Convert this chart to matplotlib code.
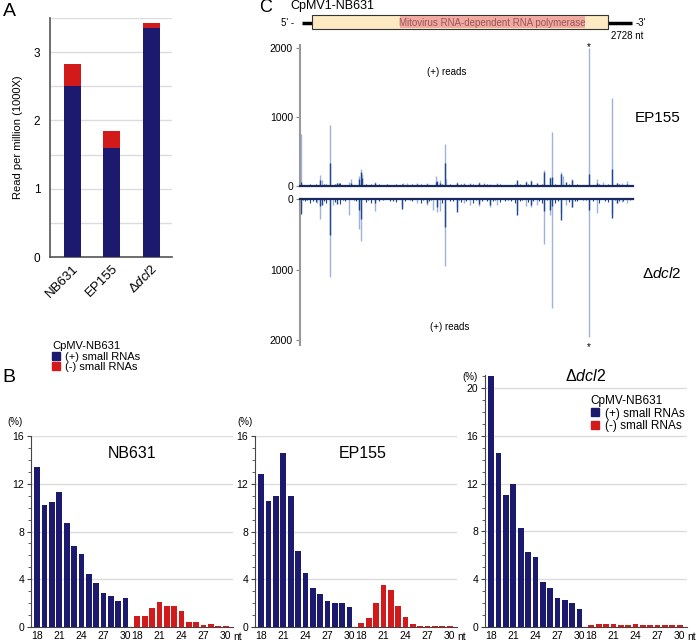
import numpy as np
import matplotlib.pyplot as plt
from matplotlib.patches import Rectangle
from matplotlib.lines import Line2D

plt.rcParams['font.family'] = ['Liberation Sans', 'DejaVu Sans']
plt.rcParams['mathtext.fontset'] = 'custom'
plt.rcParams['mathtext.rm'] = 'Liberation Sans'
plt.rcParams['mathtext.it'] = 'Liberation Sans:italic'

# ---- data ----
strains = ["NB631", "EP155", r"$\Delta\it{dcl2}$"]
plus_rpm = [2.50, 1.60, 3.35]      # (+) small RNAs, x1000 RPM
minus_rpm = [0.33, 0.24, 0.07]     # (-) small RNAs

sizes = list(range(18, 31))
nb631_plus = [13.4, 10.2, 10.45, 11.35, 8.75, 6.8, 6.15, 4.45, 3.65, 2.85, 2.6, 2.15, 2.45]
nb631_minus = [0.9, 0.9, 1.55, 2.1, 1.8, 1.8, 1.3, 0.38, 0.38, 0.14, 0.25, 0.12, 0.12]
ep155_plus = [12.85, 10.55, 11.0, 14.6, 11.0, 6.4, 4.5, 3.3, 2.75, 2.15, 2.0, 2.05, 1.67]
ep155_minus = [0.35, 0.75, 2.05, 3.5, 3.1, 1.75, 0.8, 0.22, 0.12, 0.12, 0.12, 0.12, 0.12]
dcl2_plus = [21.0, 14.55, 11.05, 12.0, 8.25, 6.3, 5.9, 3.8, 3.3, 2.45, 2.3, 2.0, 1.5]
dcl2_minus = [0.2, 0.25, 0.27, 0.22, 0.2, 0.2, 0.27, 0.18, 0.15, 0.15, 0.15, 0.2, 0.15]

genome_len = 2728
orf_start, orf_end = 98, 2523
rdrp_start, rdrp_end = 819, 2334

ep155_light_pos = [5, 166, 180, 248, 306, 404, 415, 483, 500, 511, 614, 841, 874, 955, 1037,
                   1111, 1146, 1188, 1196, 1283, 1343, 1392, 1469, 1507, 1556, 1616, 1774,
                   1851, 1889, 2001, 2048, 2067, 2135, 2151, 2225, 2370, 2430, 2484, 2552,
                   2593, 2634, 2675]
ep155_light_reads = [760, 160, 90, 890, 50, 60, 100, 140, 240, 180, 60, 40, 50, 40, 50,
                     150, 80, 610, 100, 60, 40, 50, 60, 40, 30, 50, 60,
                     70, 80, 230, 130, 790, 210, 150, 100, 2000, 100, 60, 1275,
                     50, 40, 70]
ep155_dark_pos = [5, 166, 248, 306, 317, 415, 483, 500, 511, 614, 710, 833, 955, 1037, 1111,
                  1119, 1146, 1188, 1283, 1343, 1392, 1469, 1507, 1616, 1774, 1851, 1889,
                  1938, 2001, 2048, 2067, 2135, 2178, 2225, 2293, 2370, 2430, 2552, 2593, 2675]
ep155_dark_reads = [60, 80, 330, 40, 45, 50, 100, 200, 120, 40, 25, 30, 25, 30, 60,
                    70, 50, 340, 40, 30, 35, 45, 30, 30, 80, 60, 70,
                    40, 200, 110, 130, 180, 60, 90, 20, 180, 50, 250, 40, 30]

dcl2_light_pos = [5, 136, 166, 248, 273, 404, 483, 500, 614, 833, 955, 1037, 1092, 1119, 1146,
                  1188, 1283, 1343, 1392, 1469, 1556, 1616, 1774, 1851, 1889, 1938, 2001,
                  2048, 2067, 2140, 2178, 2225, 2370, 2430, 2560, 2593, 2634, 2675]
dcl2_light_reads = [120, 60, 280, 1100, 80, 230, 420, 590, 170, 100, 60, 80, 150, 190, 170,
                    945, 120, 60, 80, 100, 110, 90, 150, 100, 120, 90, 640,
                    230, 1550, 200, 80, 120, 1960, 200, 200, 60, 40, 50]
dcl2_dark_pos = [5, 166, 180, 248, 306, 483, 500, 614, 833, 1037, 1119, 1188, 1283, 1469,
                 1556, 1774, 1889, 2001, 2048, 2067, 2140, 2225, 2370, 2560, 2593]
dcl2_dark_reads = [210, 100, 90, 510, 70, 150, 280, 50, 145, 50, 110, 400, 180, 70,
                   80, 220, 90, 170, 150, 100, 300, 110, 150, 265, 50]

fill_pos = [25, 45, 60, 85, 110, 130, 200, 215, 285, 330, 350, 370, 440, 455, 540, 560, 585,
            650, 680, 740, 760, 790, 860, 900, 920, 990, 1010, 1060, 1075, 1160, 1225, 1250,
            1300, 1320, 1360, 1420, 1440, 1490, 1530, 1580, 1600, 1640, 1680, 1700, 1730,
            1760, 1800, 1820, 1870, 1910, 1960, 1980, 2020, 2090, 2110, 2200, 2250, 2270,
            2320, 2340, 2400, 2450, 2500, 2520, 2580, 2610, 2650, 2700]
ep155_fill_reads = [15, 20, 12, 30, 18, 25, 22, 35, 28, 40, 15, 20, 12, 18, 25, 15, 30, 22, 12, 20,
                    15, 25, 18, 14, 22, 30, 15, 20, 12, 35, 22, 18, 15, 25, 20, 30, 12, 16, 22, 18,
                    15, 25, 20, 12, 18, 30, 22, 15, 25, 20, 18, 30, 15, 35, 20, 25, 18, 22, 15, 12,
                    20, 30, 18, 25, 15, 22, 20, 14]
dcl2_fill_reads = [20, 35, 15, 50, 25, 40, 30, 60, 45, 70, 20, 30, 15, 25, 40, 20, 55, 35, 15, 30,
                   25, 45, 30, 20, 35, 50, 20, 30, 15, 60, 35, 25, 20, 45, 30, 55, 15, 25, 35, 30,
                   20, 40, 30, 15, 25, 50, 35, 20, 45, 30, 25, 55, 20, 60, 30, 40, 25, 35, 20, 15,
                   30, 50, 25, 40, 20, 35, 30, 20]

NAVY = "#1c1a6e"
RED = "#d21a1a"
LIGHT = "#9fb2d8"
DARK = "#1f4690"
W, H = 696, 642

fig = plt.figure(figsize=(W / 100, H / 100), dpi=100)


def px_axes(l, t, r, b):
    return fig.add_axes([l / W, 1 - b / H, (r - l) / W, (b - t) / H])


def ftext(x, y, s, **kw):
    kw.setdefault("ha", "center")
    kw.setdefault("va", "center")
    fig.text(x / W, 1 - y / H, s, **kw)


# ---- panel A ----
axA = px_axes(50, 18, 172, 257)
xa = np.arange(len(strains))
axA.bar(xa, plus_rpm, 0.43, color=NAVY, zorder=3)
axA.bar(xa, minus_rpm, 0.43, bottom=plus_rpm, color=RED, zorder=3)
axA.set_xlim(-0.56, 2.53)
axA.set_ylim(0, 3.5)
axA.set_yticks([0, 1, 2, 3])
axA.set_yticks(np.arange(0.5, 3.6, 1.0), minor=True)
axA.yaxis.grid(True, which="both", color="#dcdcdc", lw=1, zorder=0)
axA.set_xticks(xa)
axA.set_xticklabels(strains, rotation=45, ha="right", rotation_mode="anchor", fontsize=9.5)
axA.tick_params(axis="x", length=0, pad=4)
axA.tick_params(axis="y", which="both", length=0, labelsize=8.5, pad=7)
for s in ["top", "right"]:
    axA.spines[s].set_visible(False)
for s in ["left", "bottom"]:
    axA.spines[s].set_color("#555555")
    axA.spines[s].set_linewidth(1.2)
axA.set_ylabel("Read per million (1000X)", fontsize=8, labelpad=8)
ftext(9, 12, "A", fontsize=14)

handles = [Line2D([], [], marker="s", ls="", color=NAVY, markersize=6),
           Line2D([], [], marker="s", ls="", color=RED, markersize=6)]
fig.legend(handles, ["(+) small RNAs", "(-) small RNAs"], title="CpMV-NB631",
           loc="upper left", bbox_to_anchor=(52 / W, 1 - 341 / H), frameon=False,
           fontsize=8, title_fontsize=8, alignment="left", handlelength=0.8,
           handletextpad=0.4, labelspacing=0.05, borderpad=0, borderaxespad=0)

# ---- panel C: genome map ----
axG = px_axes(300, 0, 633, 40)
axG.set_xlim(0, genome_len)
axG.set_ylim(40, 0)
axG.axis("off")
axG.plot([16, 2720], [23, 23], color="black", lw=2.5, solid_capstyle="butt")
axG.add_patch(Rectangle((orf_start, 15), orf_end - orf_start, 14, facecolor="#fde9c2",
                        edgecolor="#333333", lw=0.8, zorder=3))
axG.add_patch(Rectangle((rdrp_start, 15.6), rdrp_end - rdrp_start, 12.8, facecolor="#f0aaa2",
                        edgecolor="none", zorder=4))
axG.text((rdrp_start + rdrp_end) / 2, 22.5, "Mitovirus RNA-dependent RNA polymerase",
         ha="center", va="center", fontsize=7, color="#9a5656", zorder=5)
ftext(266, 8, "C", fontsize=13)
ftext(290, 6, "CpMV1-NB631", ha="left", fontsize=9)
ftext(288, 23, "5' -", fontsize=7)
ftext(641, 23, "-3'", fontsize=7)
ftext(627, 36, "2728 nt", fontsize=7)

# ---- panel C: coverage ----
axT = px_axes(300, 45, 633, 186)
axB = px_axes(300, 199, 633, 345)
for ax, lp, lr, dp, dr, fr in [
        (axT, ep155_light_pos, ep155_light_reads, ep155_dark_pos, ep155_dark_reads, ep155_fill_reads),
        (axB, dcl2_light_pos, dcl2_light_reads, dcl2_dark_pos, dcl2_dark_reads, dcl2_fill_reads)]:
    ax.vlines(lp, 0, lr, color=LIGHT, lw=1.0)
    ax.vlines(fill_pos, 0, fr, color=DARK, lw=0.8)
    ax.vlines(dp, 0, dr, color=DARK, lw=1.0)
    ax.set_xlim(0, genome_len)
    ax.set_xticks([])
    ax.set_yticks([0, 1000, 2000])
    ax.tick_params(axis="y", length=3, width=0.8, color="#888888", labelsize=7.5, pad=2)
    ax.spines["left"].set_color("#999999")
    ax.spines["left"].set_linewidth(1.5)
    ax.spines["right"].set_visible(False)
axT.set_ylim(0, 2050)
axT.spines["top"].set_visible(False)
axT.spines["bottom"].set_color("#1a2a5e")
axT.spines["bottom"].set_linewidth(1.6)
axB.set_ylim(2070, 0)
axB.spines["bottom"].set_visible(False)
axB.spines["top"].set_color("#1a2a5e")
axB.spines["top"].set_linewidth(1.6)

ftext(447, 72, "(+) reads", fontsize=7)
ftext(450, 327, "(+) reads", fontsize=7)
ftext(589, 47, "*", fontsize=7)
ftext(589, 347, "*", fontsize=7)
ftext(658, 118, "EP155", fontsize=11)
ftext(662, 273, r"$\Delta\it{dcl2}$", fontsize=11)

# ---- panel B ----
plus_x = np.arange(13)
minus_x = 13.6 + np.arange(13)
tick_idx = [0, 3, 6, 9, 12]
tick_x = [plus_x[i] for i in tick_idx] + [minus_x[i] for i in tick_idx]
tick_lab = [str(sizes[i]) for i in tick_idx] * 2

panels = [(31, 436, 233, 16, nb631_plus, nb631_minus, "NB631", 0.5, 0.91, 15, 422),
          (255, 436, 457, 16, ep155_plus, ep155_minus, "EP155", 0.535, 0.91, 245, 422),
          (485, 375, 687, 21.1, dcl2_plus, dcl2_minus, r"$\Delta\it{dcl2}$", 0.5, 0.995, 470, 377)]
for l, t, r, ytop, pv, mv, name, tx, ty, pcx, pcy in panels:
    ax = px_axes(l, t, r, 627)
    ax.bar(plus_x, pv, 0.78, color=NAVY, zorder=3)
    ax.bar(minus_x, mv, 0.78, color=RED, zorder=3)
    ax.set_xlim(-0.85, 26.6)
    ax.set_ylim(0, ytop)
    ax.set_yticks(np.arange(0, ytop + 0.01, 4))
    ax.set_yticks(np.arange(0, ytop, 1), minor=True)
    ax.yaxis.grid(True, which="major", color="#dcdcdc", lw=1, zorder=0)
    ax.set_xticks(tick_x)
    ax.set_xticklabels(tick_lab, fontsize=7.5)
    ax.tick_params(axis="x", length=0, pad=3)
    ax.tick_params(axis="y", which="major", length=3, labelsize=7.5, pad=2, color="#444444")
    ax.tick_params(axis="y", which="minor", length=2, color="#444444")
    for s in ["top", "right"]:
        ax.spines[s].set_visible(False)
    for s in ["left", "bottom"]:
        ax.spines[s].set_color("#444444")
    ax.text(tx, ty, name, transform=ax.transAxes, ha="center", va="center", fontsize=11.5)
    ftext(pcx, pcy, "(%)", fontsize=7)
    ftext(r + 5, 637, "nt", fontsize=7.5)

ftext(9, 378, "B", fontsize=14)

fig.legend(handles, ["(+) small RNAs", "(-) small RNAs"], title="CpMV-NB631",
           loc="upper left", bbox_to_anchor=(590 / W, 1 - 395 / H), frameon=False,
           fontsize=8.5, title_fontsize=8.5, alignment="left", handlelength=0.8,
           handletextpad=0.5, labelspacing=0.05, borderpad=0, borderaxespad=0)

fig.savefig("out.png", dpi=100)
